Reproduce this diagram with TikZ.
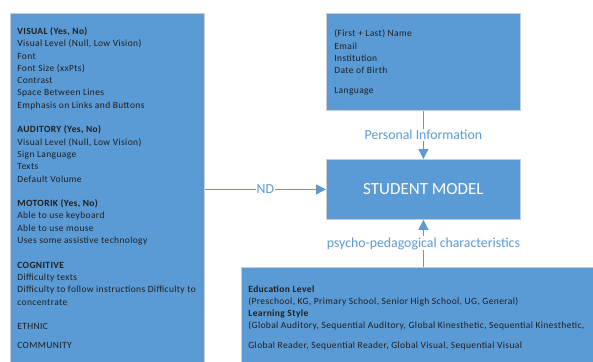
\documentclass[tikz,border=0pt]{standalone}
\usepackage{fontspec}
\setmainfont{Carlito}
\usetikzlibrary{arrows.meta,positioning}

\definecolor{boxblue}{RGB}{91,155,213}
\definecolor{boxline}{RGB}{200,205,212}
\definecolor{boxtext}{RGB}{30,30,30}

\tikzset{every picture/.style={line width=0.75pt}}
\tikzset{
	infobox/.style={draw=boxline, fill=boxblue, line width=0.8pt, inner sep=0pt, anchor=north west},
	boxlines/.style={anchor=north west, align=left, inner sep=0pt, text=boxtext, font=\fontsize{9.5}{12.3}\selectfont\addfontfeature{LetterSpace=4}},
	link/.style={draw=boxblue, line width=1.1pt, -{Triangle[length=10pt,width=10pt]}},
	linklabel/.style={fill=white, text=boxblue, inner sep=1pt, font=\fontsize{13.8}{15}\selectfont}
}

\begin{document}
\begin{tikzpicture}[x=1pt,y=1pt,yscale=-1,xscale=1]
	\useasboundingbox (0,0) rectangle (593,361);
	\clip (0,0) rectangle (593,361);

	%Shape: Rectangle [left: needs]
	\node [infobox, minimum width=194, minimum height=360] (needs) at (10,13) {};
	%Shape: Rectangle [top: personal]
	\node [infobox, minimum width=194, minimum height=97] (personal) at (326,13) {};
	%Shape: Rectangle [middle: model]
	\node [infobox, minimum width=194, minimum height=60, text=white, font=\fontsize{17}{19}\selectfont] (model) at (326,159) {STUDENT MODEL};
	%Shape: Rectangle [bottom: psycho]
	\node [infobox, minimum width=370, minimum height=110] (psycho) at (241,267) {};

	% Text Node
	\node [boxlines] (needstext) at (17,27) {\textbf{VISUAL (Yes, No)}\\
		Visual Level (Null, Low Vision)\\
		Font\\
		Font Size (xxPts)\\
		Contrast\\
		Space Between Lines\\
		Emphasis on Links and Buttons\\[12.3pt]
		\textbf{AUDITORY (Yes, No)}\\
		Visual Level (Null, Low Vision)\\
		Sign Language\\
		Texts\\
		Default Volume\\[12.3pt]
		\textbf{MOTORIK (Yes, No)}\\
		Able to use keyboard\\
		Able to use mouse\\
		Uses some assistive technology\\[12.3pt]
		\textbf{COGNITIVE}\\
		Difficulty texts\\
		Difficulty to follow instructions Difficulty to\\
		concentrate\\[12.3pt]
		ETHNIC\\[6.5pt]
		COMMUNITY};
	% Text Node
	\node [boxlines] (personaltext) at (334,29.5) {(First + Last) Name\\
		Email\\
		Institution\\
		Date of Birth\\[7pt]
		Language};
	% Text Node
	\node [boxlines] (psychotext) at (248,285) {\textbf{Education Level}\\
		(Preschool, KG, Primary School, Senior High School, UG, General)\\
		\textbf{Learning Style}\\
		(Global Auditory, Sequential Auditory, Global Kinesthetic, Sequential Kinesthetic,\\[7pt]
		Global Reader, Sequential Reader, Global Visual, Sequential Visual};

	%Straight Lines [connectors]
	\draw [link] (personal.south) -- node [linklabel] (personallabel) {Personal Information} (model.north);
	\draw [link] (model.west -| needs.east) -- node [linklabel, pos=0.5] (ndlabel) {ND} (model.west);
	\draw [link] (psycho.north -| model.south) -- node [linklabel] (psycholabel) {psycho-pedagogical characteristics} (model.south);

\end{tikzpicture}
\end{document}
